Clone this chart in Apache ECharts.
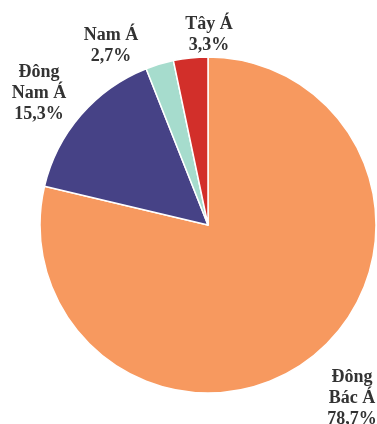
<!DOCTYPE html>
<html>
<head>
<meta charset="utf-8">
<script src="https://cdn.jsdelivr.net/npm/echarts@6/dist/echarts.min.js"></script>
<style>
  html, body { margin: 0; padding: 0; background: #ffffff; }
  #chart { width: 377px; height: 424px; }
</style>
</head>
<body>
<div id="chart"></div>
<script>
// Regions, clockwise from 12 o'clock
const regions = ['Đông\nBác Á', 'Đông\nNam Á', 'Nam Á', 'Tây Á'];
const shares = [78.7, 15.3, 2.7, 3.3];
const colors = ['#F7995F', '#464286', '#A6DCCD', '#D22F2A'];

// Label block centres (px)
const labelSpots = [[352, 398], [39, 93], [111, 46], [209, 35]];

const chart = echarts.init(document.getElementById('chart'), null, { renderer: 'canvas' });

chart.setOption({
  animation: false,
  series: [{
    type: 'pie',
    center: [208, 225],
    radius: 168,
    startAngle: 90,
    clockwise: true,
    avoidLabelOverlap: false,
    itemStyle: { borderColor: '#ffffff', borderWidth: 1.5 },
    label: {
      show: true,
      position: 'outside',
      formatter: p => p.name + '\n' + p.value.toFixed(1).replace('.', ',') + '%',
      fontFamily: 'Times New Roman, Liberation Serif, DejaVu Serif, serif',
      fontWeight: 'bold',
      fontSize: 18,
      lineHeight: 21,
      color: '#333333',
      align: 'center'
    },
    labelLine: { show: false },
    labelLayout: p => ({
      x: labelSpots[p.dataIndex][0],
      y: labelSpots[p.dataIndex][1],
      align: 'center',
      verticalAlign: 'middle'
    }),
    data: regions.map((name, i) => ({
      name: name,
      value: shares[i],
      itemStyle: { color: colors[i] }
    }))
  }]
});
</script>
</body>
</html>
